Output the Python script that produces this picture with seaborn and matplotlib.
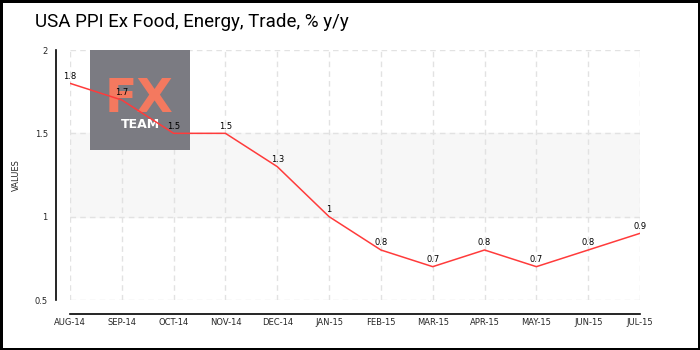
import matplotlib
matplotlib.use("Agg")
import matplotlib.pyplot as plt
from matplotlib.patches import Rectangle
import seaborn as sns
import pandas as pd

months = ["AUG-14", "SEP-14", "OCT-14", "NOV-14", "DEC-14", "JAN-15",
          "FEB-15", "MAR-15", "APR-15", "MAY-15", "JUN-15", "JUL-15"]
values = [1.8, 1.7, 1.5, 1.5, 1.3, 1.0, 0.8, 0.7, 0.8, 0.7, 0.8, 0.9]
value_labels = ["1.8", "1.7", "1.5", "1.5", "1.3", "1", "0.8", "0.7", "0.8", "0.7", "0.8", "0.9"]
y_ticks = [0.5, 1.0, 1.5, 2.0]
y_tick_labels = ["0.5", "1", "1.5", "2"]
y_minor = [0.75, 1.25, 1.75]

df = pd.DataFrame({"idx": range(len(months)), "value": values})

sns.set_style("white")
plt.rcParams["font.family"] = ["DejaVu Sans"]

W, H = 700, 350
fig = plt.figure(figsize=(7, 3.5), dpi=100)
fig.patch.set_facecolor("white")
fig.patch.set_edgecolor("black")
fig.patch.set_linewidth(2.5)

ax = fig.add_axes([70 / W, 1 - 300 / H, 570 / W, 250 / H])
ax.set_xlim(0, len(months) - 1)
ax.set_ylim(0.5, 2.0)

# shaded band and dashed grid
ax.axhspan(1.0, 1.5, color="#f7f7f7", zorder=0)
for yv in y_ticks:
    ax.axhline(yv, color="#e2e2e2", lw=1, ls=(0, (4, 3)), zorder=1)
for i in range(len(months)):
    ax.axvline(i, color="#e2e2e2", lw=1, ls=(0, (4, 3)), zorder=1)

# logo block
ax.add_patch(Rectangle((90 / W, 1 - 150 / H), 100 / W, 100 / H,
                       transform=fig.transFigure, facecolor="#7b7b82",
                       edgecolor="none", zorder=2, clip_on=False))
ax.text(139 / W, 1 - 112 / H, "FX", transform=fig.transFigure, color="#f4795f",
        fontsize=34, fontweight="bold", ha="center", va="baseline", zorder=2.1)
ax.text(140 / W, 1 - 128 / H, "TEAM", transform=fig.transFigure, color="white",
        fontsize=9, fontweight="bold", ha="center", va="baseline", zorder=2.1)

sns.lineplot(data=df, x="idx", y="value", ax=ax, color="#ff3b3b", lw=1.1,
             zorder=3)

for i, (v, lab) in enumerate(zip(values, value_labels)):
    ax.annotate(lab, (i, v), xytext=(0, 2), textcoords="offset points",
                ha="center", va="bottom", fontsize=6, color="black", zorder=4)

ax.set_xticks(range(len(months)))
ax.set_xticklabels(months)
ax.set_yticks(y_ticks)
ax.set_yticklabels(y_tick_labels)
ax.set_yticks(y_minor, minor=True)
ax.tick_params(axis="y", which="major", direction="out", length=4, width=1,
               color="black", pad=2, labelsize=6)
ax.tick_params(axis="y", which="minor", direction="out", length=3, width=1,
               color="red", labelsize=6)
ax.tick_params(axis="x", which="major", direction="in", length=4, width=1,
               color="black", pad=3, labelsize=6)

ax.set_xlabel("")
ax.set_ylabel("VALUES", fontsize=6, labelpad=10)

for side in ["top", "right"]:
    ax.spines[side].set_visible(False)
for side in ["left", "bottom"]:
    ax.spines[side].set_position(("outward", 10))
    ax.spines[side].set_color("black")
    ax.spines[side].set_linewidth(1.2)
ax.spines["left"].set_bounds(0.5, 2.0)
ax.spines["bottom"].set_bounds(0, len(months) - 1)
ax.set_facecolor("none")

fig.text(35 / W, 1 - 22 / H, "USA PPI Ex Food, Energy, Trade, % y/y",
         fontsize=13.5, color="black", ha="left", va="center",
         family=["Roboto", "DejaVu Sans"])

fig.savefig("out.png", dpi=100, facecolor=fig.get_facecolor(),
            edgecolor=fig.get_edgecolor())
